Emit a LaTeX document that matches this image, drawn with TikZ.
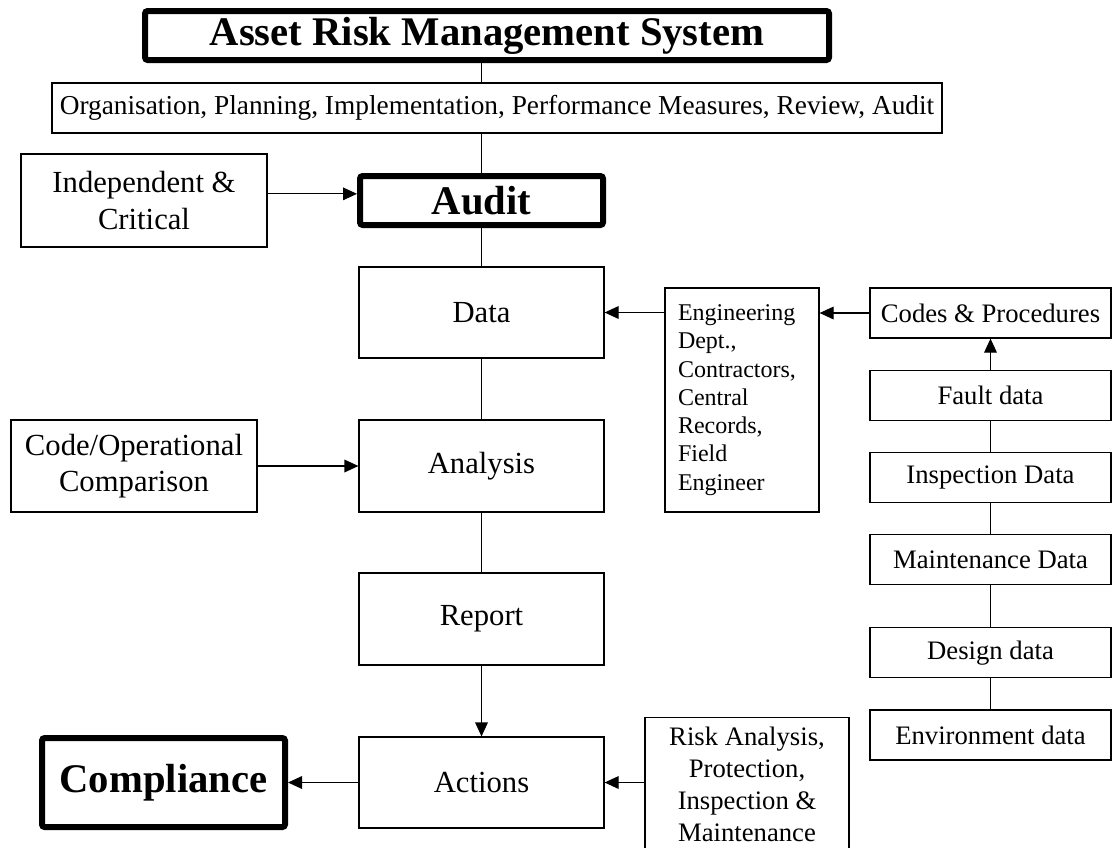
\documentclass[tikz,border=0pt]{standalone}
\usepackage{fontspec}
\setmainfont{Liberation Serif}
\usetikzlibrary{positioning,arrows.meta}
\tikzset{
    >={Triangle[length=10.5pt,width=9.5pt]}, % filled arrow heads
    x=0.75pt, y=-0.75pt, % one unit is one pixel of the sheet, y runs down
    node distance=23.25pt, % gap between the boxes of the data column
    box/.style={draw, line width=0.9pt, align=center, inner sep=0pt,
        font=\fontsize{23}{27.5}\selectfont,
        minimum width=183.75pt, minimum height=68.25pt},
    keybox/.style={draw, line width=4.5pt, rounded corners=2pt, inner sep=0pt,
        font=\bfseries\fontsize{30.5}{36}\selectfont,
        minimum width=182.25pt, minimum height=36.75pt},
    srcbox/.style={draw, line width=0.9pt, inner sep=0pt,
        font=\fontsize{20}{24}\selectfont,
        minimum width=180.75pt, minimum height=37.5pt},
}
\begin{document}
\begin{tikzpicture}
  \useasboundingbox (0,0) rectangle (1112,847);

  % main column
  \node[keybox, minimum width=513pt] (system) at (487,35.5) {Asset Risk Management System};
  \node[box, font=\fontsize{20.5}{24}\selectfont, minimum width=667.5pt,
      minimum height=37.5pt] (stages) at (497,108)
      {Organisation, Planning, Implementation, Performance Measures, Review, Audit};
  \node[keybox] (audit) at (481.5,200.5) {Audit};
  \node[box] (data)     at (481.5,312.5) {Data};
  \node[box, minimum height=69pt] (analysis) at (481.5,466) {Analysis};
  \node[box, minimum height=69pt] (report)   at (481.5,619) {Report};
  \node[box] (actions)  at (481.5,782.5) {Actions};

  % left side
  \node[box, minimum width=184.5pt, minimum height=69.75pt] (indep) at (144,200.5)
      {Independent \&\\Critical};
  \node[box, minimum width=184.5pt, minimum height=69pt] (compare) at (134,466)
      {Code/Operational\\Comparison};
  \node[keybox, minimum height=66.75pt] (comply) at (163.5,782.5) {Compliance};

  % sources
  \node[box, font=\fontsize{18}{21.2}\selectfont, align=left, text width=96pt,
      inner xsep=9.75pt, minimum width=115.5pt, minimum height=168pt] (sources) at (742,400)
      {Engineering\\Dept.,\\Contractors,\\Central\\Records,\\Field\\Engineer};
  \node[box, font=\fontsize{20}{24}\selectfont, minimum width=153pt, inner ysep=5.3pt,
      minimum height=100pt, anchor=north] (risk) at (747,717)
      {Risk Analysis,\\Protection,\\Inspection \&\\Maintenance};

  % data column on the right
  \node[srcbox] (codes)   at (990.5,313) {Codes \& Procedures};
  \node[srcbox] (fault)   [below=of codes]   {Fault data};
  \node[srcbox] (inspect) [below=of fault]   {Inspection Data};
  \node[srcbox] (maint)   [below=of inspect] {Maintenance Data};
  \node[srcbox] (design)  [below=31.5pt of maint] {Design data};
  \node[srcbox] (environ) [below=of design]  {Environment data};

  \draw[line width=0.9pt] (system.south -| audit) -- (stages.north -| audit)
    (stages.south -| audit) -- (audit.north)
    (audit) -- (data) (data) -- (analysis) (analysis) -- (report)
    (fault) -- (inspect) (inspect) -- (maint) (maint) -- (design) (design) -- (environ);
  \path[->, line width=0.9pt]
    ([yshift=5pt]indep.east) edge ([yshift=5pt]audit.west)
    (compare) edge (analysis)
    (report) edge (actions)
    (actions) edge (comply)
    (actions.east -| risk.west) edge (actions.east)
    (data.east -| sources.west) edge (data.east)
    (codes.west) edge (codes.west -| sources.east)
    (fault) edge (codes);
\end{tikzpicture}
\end{document}
